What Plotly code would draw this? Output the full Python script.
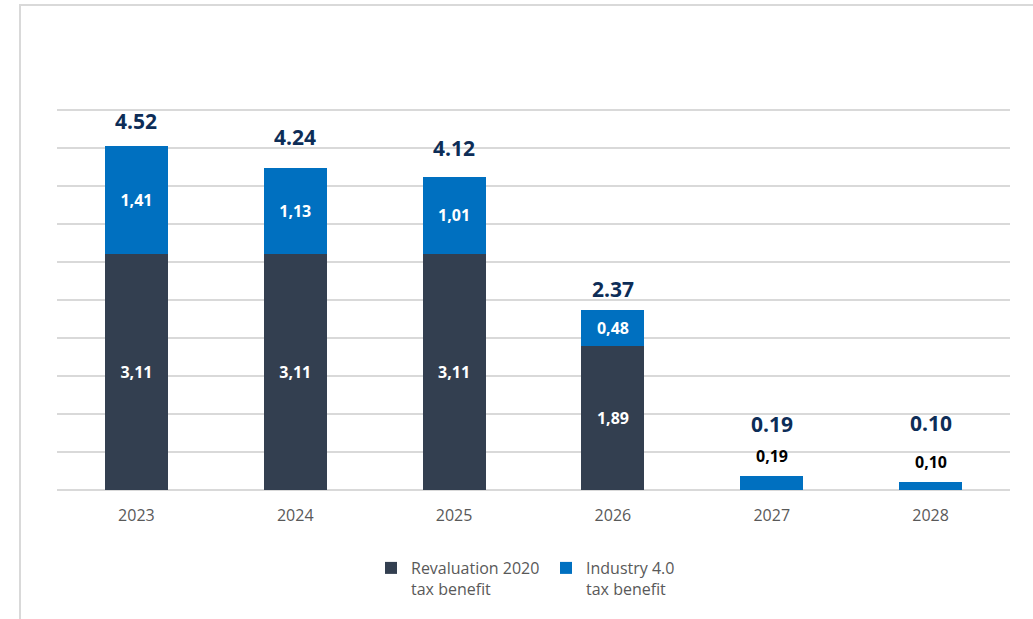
import plotly.graph_objects as go

# Tax benefit per year (EUR m)
years = ["2023", "2024", "2025", "2026", "2027", "2028"]
revaluation_2020 = [3.11, 3.11, 3.11, 1.89, 0.0, 0.0]
industry_40 = [1.41, 1.13, 1.01, 0.48, 0.19, 0.10]

# Vertical pixel offset of each total label above its bar
total_label_shift = [25, 31, 29, 21, 52, 59]
# Pixel offset of segment labels that sit above short bars
outside_label_shift = 20

DARK = "#333F50"
BLUE = "#0070C0"
NAVY = "#0D2D57"
GRID = "#D9D9D9"
GREY_TXT = "#595959"
FONT = "Open Sans"

W, H = 1033, 619
Y_MAX = 5.05
PX_PER_UNIT = 76
L, R, B = 57, 23, 129
T = H - B - round(Y_MAX * PX_PER_UNIT)
pw, ph = W - L - R, H - T - B


def comma(v):
    return f"{v:.2f}".replace(".", ",")


totals = [round(a + b, 2) for a, b in zip(revaluation_2020, industry_40)]
inside_ok = [v >= 0.3 for v in industry_40]

fig = go.Figure()

fig.add_trace(go.Bar(
    x=years, y=revaluation_2020,
    name="Revaluation 2020<br>tax benefit",
    marker=dict(color=DARK, line=dict(width=0)),
    text=[comma(v) if v > 0 else "" for v in revaluation_2020],
    textposition="inside", insidetextanchor="middle",
    textfont=dict(family=FONT, size=16, color="white", weight="bold"),
    hoverinfo="skip",
))

fig.add_trace(go.Bar(
    x=years, y=industry_40,
    name="Industry 4.0<br>tax benefit",
    marker=dict(color=BLUE, line=dict(width=0)),
    text=[comma(v) if ok else "" for v, ok in zip(industry_40, inside_ok)],
    textposition="inside", insidetextanchor="middle",
    textfont=dict(family=FONT, size=16, color="white", weight="bold"),
    hoverinfo="skip",
))

# short segments: value written in black just above the bar
for i, (v, tot, ok) in enumerate(zip(industry_40, totals, inside_ok)):
    if not ok:
        fig.add_annotation(
            x=i, y=tot, text=comma(v), showarrow=False,
            yanchor="middle", yshift=outside_label_shift,
            font=dict(family=FONT, size=16, color="black", weight="bold"),
        )

# totals above each stack (category index used as x position)
for i, (tot, dy) in enumerate(zip(totals, total_label_shift)):
    fig.add_annotation(
        x=i, y=tot, text=f"{tot:.2f}", showarrow=False,
        yanchor="middle", yshift=dy,
        font=dict(family=FONT, size=21, color=NAVY, weight="bold"),
    )


def px_x(p):
    return (p - L) / pw


def px_y(p):
    return (H - B - p) / ph


# light outer frame
fig.add_shape(
    type="rect", xref="paper", yref="paper",
    x0=px_x(20), x1=px_x(1045), y0=px_y(5), y1=px_y(630),
    line=dict(color=GRID, width=2), fillcolor="rgba(0,0,0,0)", layer="below",
)

fig.update_layout(
    width=W, height=H,
    margin=dict(l=L, r=R, t=T, b=B, autoexpand=False),
    paper_bgcolor="white", plot_bgcolor="white",
    barmode="stack", bargap=0.603,
    font=dict(family=FONT, color=GREY_TXT),
    showlegend=True,
    legend=dict(
        orientation="h", traceorder="normal",
        x=px_x(371), xanchor="left",
        y=px_y(551), yanchor="top", valign="top",
        font=dict(family=FONT, size=16, color=GREY_TXT),
        entrywidth=130, entrywidthmode="pixels",
        itemclick=False, itemdoubleclick=False,
        bgcolor="rgba(0,0,0,0)",
    ),
    xaxis=dict(
        type="category", categoryorder="array", categoryarray=years,
        range=[-0.5, len(years) - 0.5],
        showgrid=False, showline=False, zeroline=False,
        tickfont=dict(family=FONT, size=16, color=GREY_TXT),
        ticks="", ticklabelstandoff=14,
    ),
    yaxis=dict(
        range=[0, Y_MAX], dtick=0.5, tick0=0,
        showgrid=True, gridcolor=GRID, gridwidth=2,
        zeroline=True, zerolinecolor=GRID, zerolinewidth=2,
        showticklabels=False, ticks="", showline=False,
    ),
)

fig.write_html("out.html")
